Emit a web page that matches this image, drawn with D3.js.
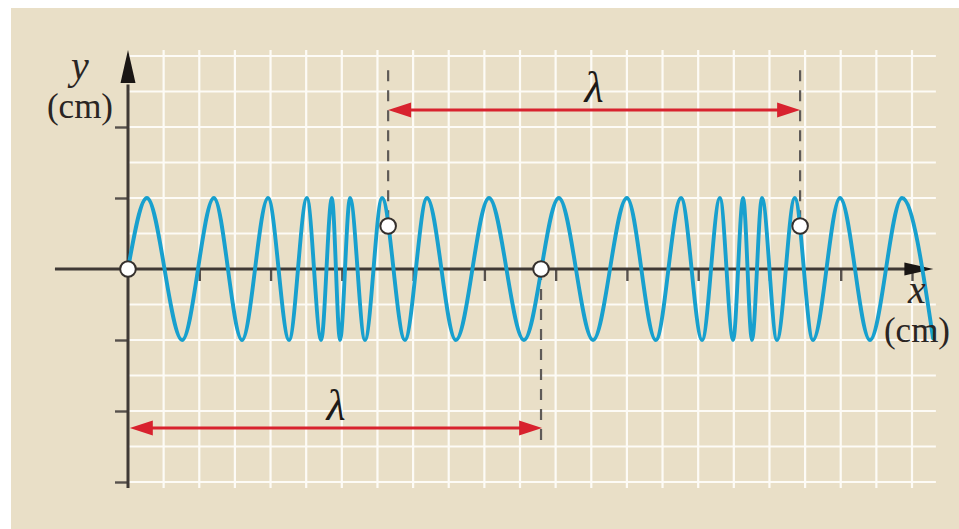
<!DOCTYPE html>
<html>
<head>
<meta charset="utf-8">
<script src="https://cdn.jsdelivr.net/npm/d3@7"></script>
<style>
  html, body { margin: 0; padding: 0; background: #ffffff; }
  svg { display: block; }
</style>
</head>
<body>
<svg id="chart" width="959" height="529"></svg>
<script>
// ---------- data ----------
const xTicks = [2, 4, 6, 8, 10, 12, 14, 16, 18, 20, 22];
const yTicks = [4, 2, -2, -4, -6];
const gridX = [1,2,3,4,5,6,7,8,9,10,11,12,13,14,15,16,17,18,19,20,21,22];
const gridY = [-6,-5,-4,-3,-2,-1,1,2,3,4,5,6];

// extrema of the wave (x in cm, y in cm)
const waveX = [0, 0.53, 1.52, 2.41, 3.20, 3.93, 4.52, 5.02, 5.42, 5.72, 5.95, 6.23, 6.65, 7.13, 7.77, 8.39, 9.20, 10.13, 11.11,
               12.09, 13.05, 14.00, 14.81, 15.52, 16.11, 16.61, 16.98, 17.26, 17.51, 17.79, 18.21, 18.71, 19.22, 19.98, 20.82, 21.72, 22.59];
const waveY = [0, 2, -2, 2, -2, 2, -2, 2, -2, 2, -2, 2, -2, 2, -2, 2, -2, 2, -2,
               2, -2, 2, -2, 2, -2, 2, -2, 2, -2, 2, -2, 2, -2, 2, -2, 2, -1.95];

// marked points
const markX = [0, 7.30, 11.59, 18.86];
const markY = [0, 1.21, 0, 1.21];

// wavelength arrows
const lambdaFrom = [7.30, 0.05];
const lambdaTo   = [18.86, 11.62];
const lambdaAt   = [4.48, -4.48];
const lambdaLabel = ["λ", "λ"];

// dashed guides
const guideX    = [7.30, 18.86, 11.59];
const guideFrom = [5.6, 5.6, 0];
const guideTo   = [1.21, 1.21, -4.87];

// axis titles
const yTitle = ["y", "(cm)"];
const xTitle = ["x", "(cm)"];

// ---------- drawing ----------
const svg = d3.select("#chart");
const x = d3.scaleLinear().domain([0, 22]).range([128, 912]);
const y = d3.scaleLinear().domain([-6, 6]).range([482, 56]);

// background panel
svg.append("rect").attr("x", 11).attr("y", 8).attr("width", 948).attr("height", 521).attr("fill", "#e9dfc7");

// grid
const grid = svg.append("g").attr("stroke", "#fdfbf6").attr("stroke-width", 2.2);
grid.selectAll("line.v").data(gridX).join("line")
  .attr("x1", d => x(d)).attr("x2", d => x(d))
  .attr("y1", y(6.17)).attr("y2", y(-6.17));
grid.selectAll("line.h").data(gridY).join("line")
  .attr("x1", x(0)).attr("x2", x(22.67))
  .attr("y1", d => y(d)).attr("y2", d => y(d));

// ticks via d3 axes
const axColor = "#3f3935";
const xAxis = svg.append("g").attr("transform", `translate(0,${y(0)})`)
  .call(d3.axisBottom(x).tickValues(xTicks).tickSize(12).tickFormat(""));
xAxis.select(".domain").remove();
xAxis.selectAll(".tick line").attr("stroke", "#57514c").attr("stroke-width", 2.4);

const yAxis = svg.append("g").attr("transform", `translate(${x(0)},0)`)
  .call(d3.axisLeft(y).tickValues(yTicks).tickSize(13).tickFormat(""));
yAxis.select(".domain").remove();
yAxis.selectAll(".tick line").attr("stroke", "#57514c").attr("stroke-width", 2.4);

// axis lines
svg.append("line").attr("x1", x(-2.05)).attr("x2", x(21.9)).attr("y1", y(0)).attr("y2", y(0))
  .attr("stroke", axColor).attr("stroke-width", 3);
svg.append("line").attr("x1", x(0)).attr("x2", x(0)).attr("y1", y(-6.17)).attr("y2", y(5.2))
  .attr("stroke", axColor).attr("stroke-width", 3);
// arrowheads
const tipX = x(22.6), tipY = y(6.17);
svg.append("path").attr("d", `M${tipX},${y(0)} L${tipX-29},${y(0)-6.5} L${tipX-29},${y(0)+6.5} Z`).attr("fill", "#1a1614");
svg.append("path").attr("d", `M${x(0)},${tipY} L${x(0)-7.5},${tipY+33} L${x(0)+7.5},${tipY+33} Z`).attr("fill", "#1a1614");

// dashed guides
svg.append("g").selectAll("line").data(guideX).join("line")
  .attr("x1", d => x(d)).attr("x2", d => x(d))
  .attr("y1", (d, i) => y(guideFrom[i])).attr("y2", (d, i) => y(guideTo[i]))
  .attr("stroke", "#5e5a57").attr("stroke-width", 2.2).attr("stroke-dasharray", "11,9");

// wave
const waveData = waveX.map((d, i) => [d, waveY[i]]);
svg.append("path").datum(waveData)
  .attr("d", d3.line().x(d => x(d[0])).y(d => y(d[1])).curve(d3.curveMonotoneX))
  .attr("fill", "none").attr("stroke", "#18a0ce").attr("stroke-width", 3.9)
  .attr("stroke-linejoin", "round").attr("stroke-linecap", "round");

// markers
svg.append("g").selectAll("circle").data(markX).join("circle")
  .attr("cx", d => x(d)).attr("cy", (d, i) => y(markY[i])).attr("r", 7.8)
  .attr("fill", "#ffffff").attr("stroke", "#35302d").attr("stroke-width", 2);

// lambda arrows
const red = "#d8222e";
lambdaFrom.forEach((f, i) => {
  const x1 = x(f), x2 = x(lambdaTo[i]), yy = y(lambdaAt[i]);
  const g = svg.append("g");
  g.append("line").attr("x1", x1 + 10).attr("x2", x2 - 10).attr("y1", yy).attr("y2", yy)
    .attr("stroke", red).attr("stroke-width", 3);
  g.append("path").attr("d", `M${x1},${yy} L${x1+23},${yy-7.5} L${x1+23},${yy+7.5} Z`).attr("fill", red);
  g.append("path").attr("d", `M${x2},${yy} L${x2-23},${yy-7.5} L${x2-23},${yy+7.5} Z`).attr("fill", red);
  g.append("text").attr("x", (x1 + x2) / 2).attr("y", yy - 8)
    .attr("text-anchor", "middle")
    .attr("font-family", "'Liberation Serif', 'DejaVu Serif', serif")
    .attr("font-style", "italic").attr("font-size", 44).attr("fill", "#1d1a18")
    .text(lambdaLabel[i]);
});

// axis titles (one text element each, two lines)
const serif = "'Liberation Serif', 'Times New Roman', serif";
function title(cx, baseline1, baseline2, parts) {
  const t = svg.append("text").attr("text-anchor", "middle")
    .attr("font-family", serif).attr("fill", "#2a2523");
  t.append("tspan").attr("x", cx).attr("y", baseline1)
    .attr("font-style", "italic").attr("font-size", 40).text(parts[0]);
  t.append("tspan").attr("x", cx).attr("y", baseline2)
    .attr("font-size", 35).text(parts[1]);
}
title(80, 79, 118, yTitle);
title(917, 303, 342, xTitle);
</script>
</body>
</html>
